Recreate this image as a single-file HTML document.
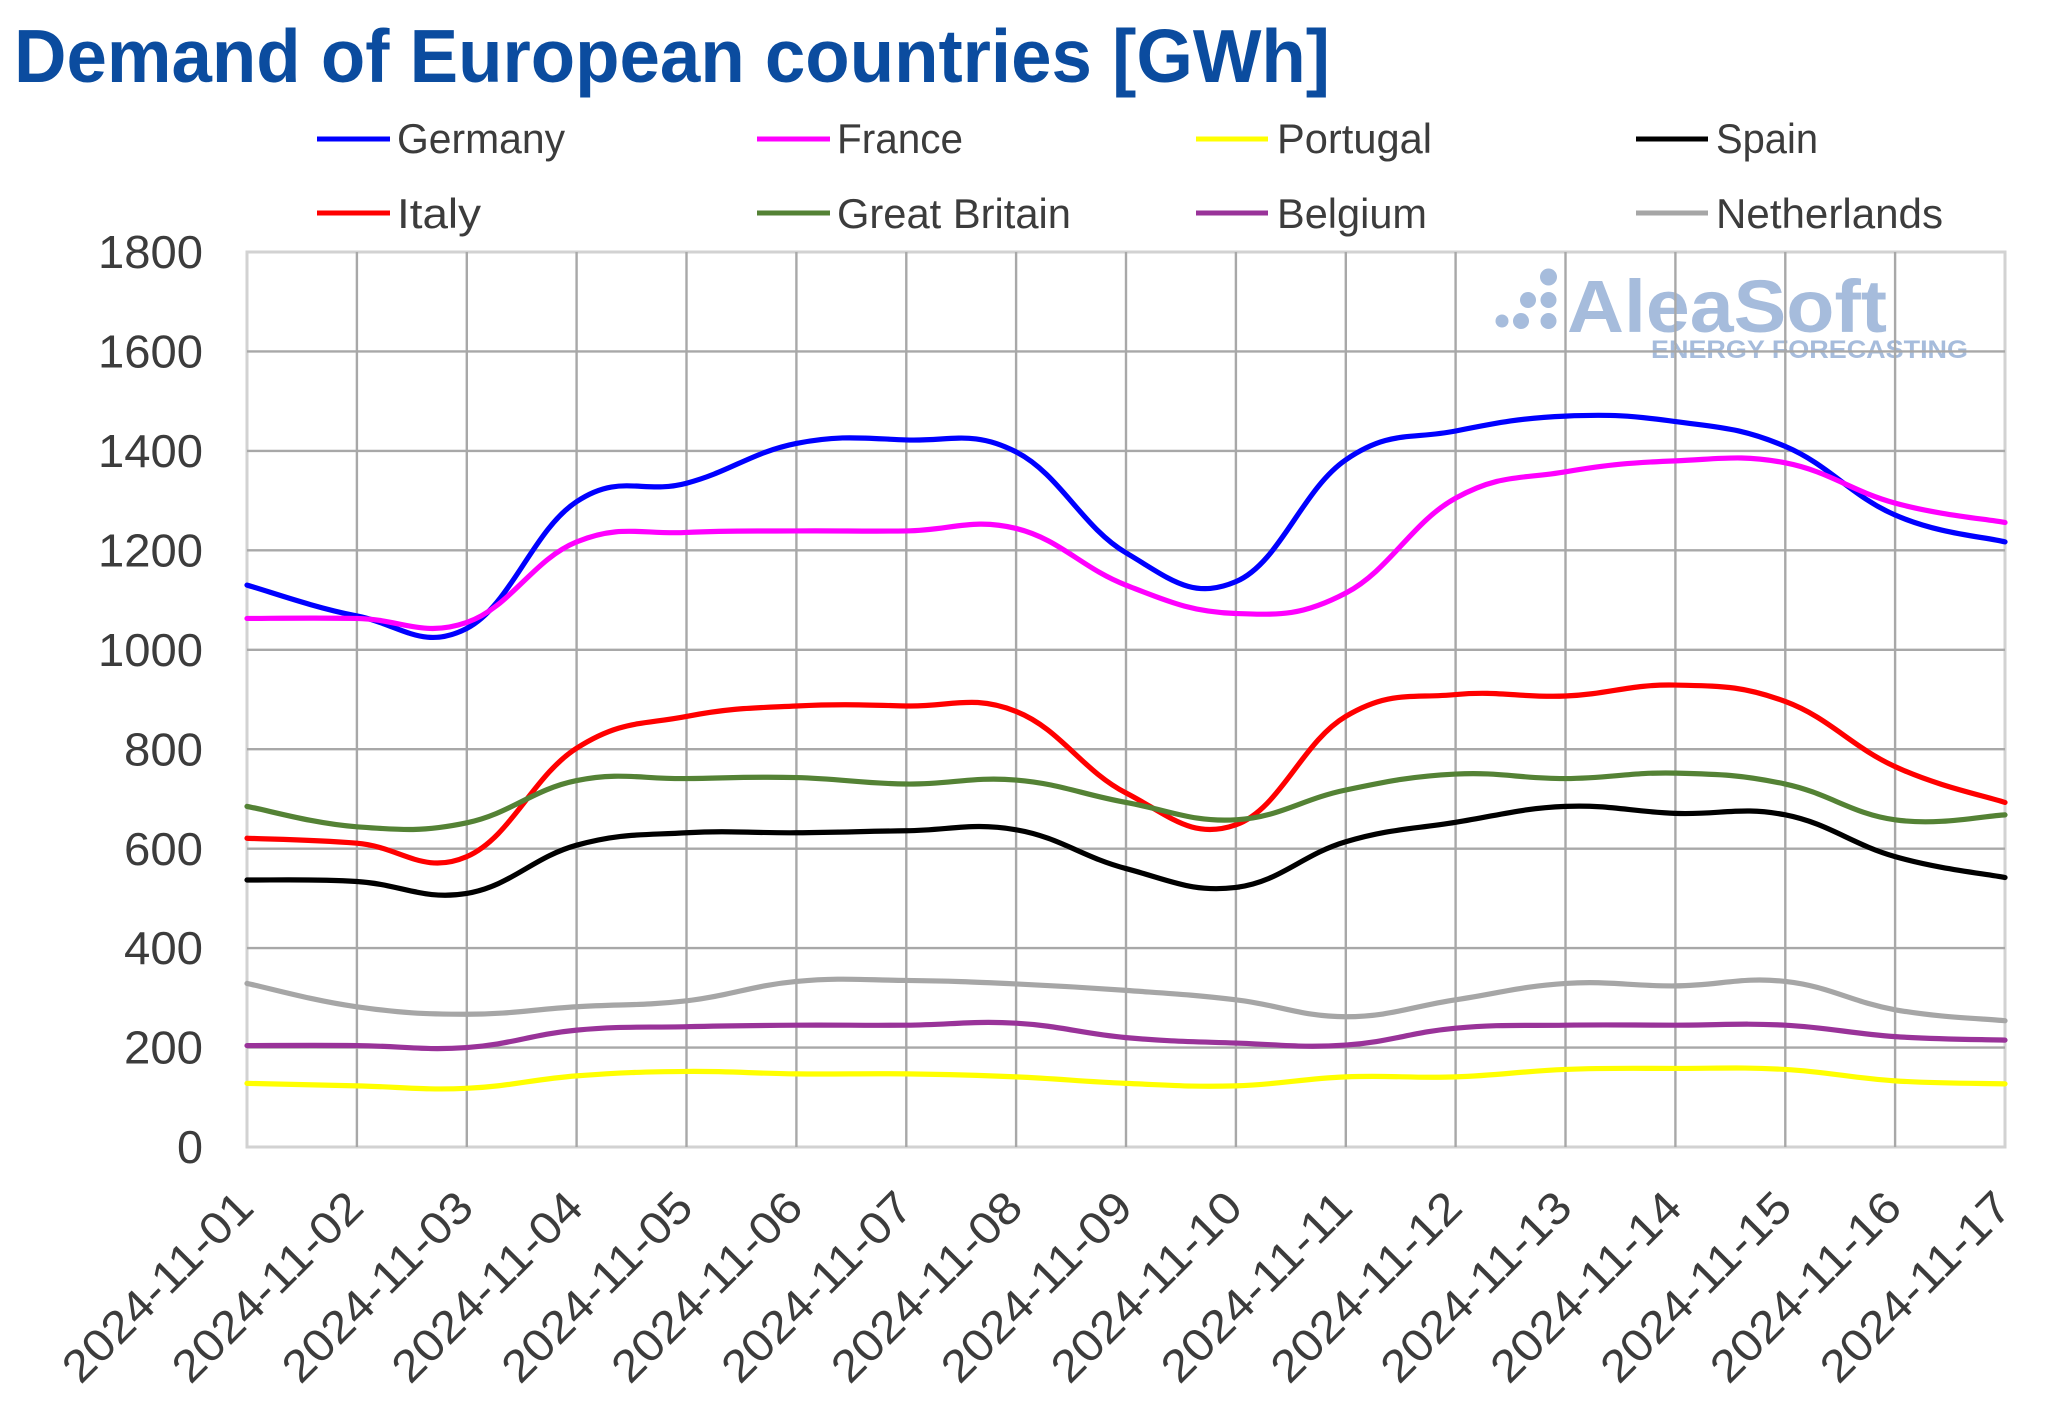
<!DOCTYPE html>
<html>
<head>
<meta charset="utf-8">
<style>
html,body{margin:0;padding:0;background:#fff;}
svg{display:block;}
text{font-family:"Liberation Sans",sans-serif;}
</style>
</head>
<body>
<svg id="chart" width="2048" height="1426" viewBox="0 0 2048 1426" xmlns="http://www.w3.org/2000/svg">
<rect x="0" y="0" width="2048" height="1426" fill="#ffffff"/>

<!-- Title -->
<text x="14" y="82" font-size="75" font-weight="bold" fill="#0b4c9f" textLength="1316" lengthAdjust="spacingAndGlyphs">Demand of European countries [GWh]</text>

<!-- Legend -->
<g stroke-width="5" stroke-linecap="butt">
<line x1="317" y1="139" x2="390" y2="139" stroke="#0000ff"/>
<line x1="757" y1="139" x2="830" y2="139" stroke="#ff00ff"/>
<line x1="1196" y1="139" x2="1268" y2="139" stroke="#ffff00"/>
<line x1="1636" y1="139" x2="1708" y2="139" stroke="#000000"/>
<line x1="317" y1="213" x2="390" y2="213" stroke="#ff0000"/>
<line x1="757" y1="213" x2="830" y2="213" stroke="#548235"/>
<line x1="1196" y1="213" x2="1268" y2="213" stroke="#993399"/>
<line x1="1636" y1="213" x2="1708" y2="213" stroke="#a6a6a6"/>
</g>
<g font-size="42" fill="#3c3c3c">
<text x="397" y="153" textLength="168" lengthAdjust="spacingAndGlyphs">Germany</text>
<text x="837" y="153" textLength="126" lengthAdjust="spacingAndGlyphs">France</text>
<text x="1277" y="153" textLength="155" lengthAdjust="spacingAndGlyphs">Portugal</text>
<text x="1716" y="153" textLength="102" lengthAdjust="spacingAndGlyphs">Spain</text>
<text x="397" y="228" textLength="84" lengthAdjust="spacingAndGlyphs">Italy</text>
<text x="837" y="228" textLength="234" lengthAdjust="spacingAndGlyphs">Great Britain</text>
<text x="1277" y="228" textLength="150" lengthAdjust="spacingAndGlyphs">Belgium</text>
<text x="1716" y="228" textLength="227" lengthAdjust="spacingAndGlyphs">Netherlands</text>
</g>

<!-- Watermark (behind grid) -->
<g fill="#a6bcdc">
<circle cx="1548.5" cy="277" r="8.5"/>
<circle cx="1528" cy="300" r="8"/>
<circle cx="1548.5" cy="300" r="8"/>
<circle cx="1502" cy="321" r="6.5"/>
<circle cx="1521" cy="321" r="8"/>
<circle cx="1548.5" cy="321" r="8"/>
<text x="1567" y="332" font-size="74" font-weight="bold" textLength="320" lengthAdjust="spacingAndGlyphs">AleaSoft</text>
<text x="1651" y="358" font-size="25" font-weight="bold" textLength="317" lengthAdjust="spacingAndGlyphs">ENERGY FORECASTING</text>
</g>

<!-- Plot border -->
<rect x="247" y="252" width="1758" height="895" fill="none" stroke="#d2d2d2" stroke-width="3"/>
<!-- Gridlines -->
<g stroke="#a8a8a8" stroke-width="2.4">
<line x1="247" y1="351.4" x2="2005" y2="351.4"/>
<line x1="247" y1="450.9" x2="2005" y2="450.9"/>
<line x1="247" y1="550.3" x2="2005" y2="550.3"/>
<line x1="247" y1="649.8" x2="2005" y2="649.8"/>
<line x1="247" y1="749.2" x2="2005" y2="749.2"/>
<line x1="247" y1="848.7" x2="2005" y2="848.7"/>
<line x1="247" y1="948.1" x2="2005" y2="948.1"/>
<line x1="247" y1="1047.6" x2="2005" y2="1047.6"/>
<line x1="356.9" y1="252" x2="356.9" y2="1147"/>
<line x1="466.8" y1="252" x2="466.8" y2="1147"/>
<line x1="576.6" y1="252" x2="576.6" y2="1147"/>
<line x1="686.5" y1="252" x2="686.5" y2="1147"/>
<line x1="796.4" y1="252" x2="796.4" y2="1147"/>
<line x1="906.3" y1="252" x2="906.3" y2="1147"/>
<line x1="1016.1" y1="252" x2="1016.1" y2="1147"/>
<line x1="1126" y1="252" x2="1126" y2="1147"/>
<line x1="1235.9" y1="252" x2="1235.9" y2="1147"/>
<line x1="1345.8" y1="252" x2="1345.8" y2="1147"/>
<line x1="1455.6" y1="252" x2="1455.6" y2="1147"/>
<line x1="1565.5" y1="252" x2="1565.5" y2="1147"/>
<line x1="1675.4" y1="252" x2="1675.4" y2="1147"/>
<line x1="1785.3" y1="252" x2="1785.3" y2="1147"/>
<line x1="1895.1" y1="252" x2="1895.1" y2="1147"/>
</g>

<!-- Y labels -->
<g font-size="46" fill="#3c3c3c" text-anchor="end">
<text x="203" y="268" textLength="105" lengthAdjust="spacingAndGlyphs">1800</text>
<text x="203" y="367.5" textLength="105" lengthAdjust="spacingAndGlyphs">1600</text>
<text x="203" y="467" textLength="105" lengthAdjust="spacingAndGlyphs">1400</text>
<text x="203" y="566.4" textLength="105" lengthAdjust="spacingAndGlyphs">1200</text>
<text x="203" y="665.9" textLength="105" lengthAdjust="spacingAndGlyphs">1000</text>
<text x="203" y="765.3" textLength="79" lengthAdjust="spacingAndGlyphs">800</text>
<text x="203" y="864.8" textLength="79" lengthAdjust="spacingAndGlyphs">600</text>
<text x="203" y="964.2" textLength="79" lengthAdjust="spacingAndGlyphs">400</text>
<text x="203" y="1063.7" textLength="79" lengthAdjust="spacingAndGlyphs">200</text>
<text x="203" y="1163.1" textLength="26" lengthAdjust="spacingAndGlyphs">0</text>
</g>

<!-- X labels -->
<g font-size="45" fill="#3c3c3c" text-anchor="end">
<text transform="translate(256,1210) rotate(-45)" textLength="248" lengthAdjust="spacingAndGlyphs">2024-11-01</text>
<text transform="translate(365.9,1210) rotate(-45)" textLength="248" lengthAdjust="spacingAndGlyphs">2024-11-02</text>
<text transform="translate(475.8,1210) rotate(-45)" textLength="248" lengthAdjust="spacingAndGlyphs">2024-11-03</text>
<text transform="translate(585.6,1210) rotate(-45)" textLength="248" lengthAdjust="spacingAndGlyphs">2024-11-04</text>
<text transform="translate(695.5,1210) rotate(-45)" textLength="248" lengthAdjust="spacingAndGlyphs">2024-11-05</text>
<text transform="translate(805.4,1210) rotate(-45)" textLength="248" lengthAdjust="spacingAndGlyphs">2024-11-06</text>
<text transform="translate(915.3,1210) rotate(-45)" textLength="248" lengthAdjust="spacingAndGlyphs">2024-11-07</text>
<text transform="translate(1025.1,1210) rotate(-45)" textLength="248" lengthAdjust="spacingAndGlyphs">2024-11-08</text>
<text transform="translate(1135,1210) rotate(-45)" textLength="248" lengthAdjust="spacingAndGlyphs">2024-11-09</text>
<text transform="translate(1244.9,1210) rotate(-45)" textLength="248" lengthAdjust="spacingAndGlyphs">2024-11-10</text>
<text transform="translate(1354.8,1210) rotate(-45)" textLength="248" lengthAdjust="spacingAndGlyphs">2024-11-11</text>
<text transform="translate(1464.6,1210) rotate(-45)" textLength="248" lengthAdjust="spacingAndGlyphs">2024-11-12</text>
<text transform="translate(1574.5,1210) rotate(-45)" textLength="248" lengthAdjust="spacingAndGlyphs">2024-11-13</text>
<text transform="translate(1684.4,1210) rotate(-45)" textLength="248" lengthAdjust="spacingAndGlyphs">2024-11-14</text>
<text transform="translate(1794.3,1210) rotate(-45)" textLength="248" lengthAdjust="spacingAndGlyphs">2024-11-15</text>
<text transform="translate(1904.1,1210) rotate(-45)" textLength="248" lengthAdjust="spacingAndGlyphs">2024-11-16</text>
<text transform="translate(2014,1210) rotate(-45)" textLength="248" lengthAdjust="spacingAndGlyphs">2024-11-17</text>
</g>

<!-- Series -->
<g id="series" fill="none" stroke-width="5.2" stroke-linejoin="round" stroke-linecap="round">
<path id="s0" stroke="#0000ff"/>
<path id="s1" stroke="#ff00ff"/>
<path id="s2" stroke="#ffff00"/>
<path id="s3" stroke="#000000"/>
<path id="s4" stroke="#ff0000"/>
<path id="s5" stroke="#548235"/>
<path id="s6" stroke="#993399"/>
<path id="s7" stroke="#a6a6a6"/>
</g>
</svg>
<script>
(function(){
var data=[
[1130,1068,1043,1298,1335,1415,1422,1398,1195,1137,1382,1440,1470,1459,1409,1271,1217],
[1063,1063,1055,1217,1236,1239,1239,1244,1130,1073,1114,1305,1358,1380,1376,1295,1256],
[128,123,118,143,152,147,147,141,128,123,141,141,156,158,156,133,127],
[537,534,510,607,632,632,636,638,560,522,614,653,685,671,668,584,542],
[621,611,584,802,866,887,887,876,712,648,866,910,907,929,896,765,693],
[685,644,652,737,741,743,730,738,693,658,718,750,741,752,730,658,668],
[204,204,200,235,242,245,245,249,220,209,205,239,245,245,245,222,215],
[329,282,267,282,294,333,335,328,315,296,262,296,329,324,333,276,254]
];
var T=0.2;
function pt(v,i){return [247+i*109.875,1147-v*0.49722];}
function f(n){return n.toFixed(2);}
for(var s=0;s<data.length;s++){
  var p=data[s].map(pt),n=p.length;
  var d="M"+f(p[0][0])+" "+f(p[0][1]);
  for(var i=0;i<n-1;i++){
    var p0=p[i>0?i-1:i],p1=p[i],p2=p[i+1],p3=p[i+2<n?i+2:i+1];
    var c1x=p1[0]+(p2[0]-p0[0])*T,c1y=p1[1]+(p2[1]-p0[1])*T;
    var c2x=p2[0]-(p3[0]-p1[0])*T,c2y=p2[1]-(p3[1]-p1[1])*T;
    d+=" C"+f(c1x)+" "+f(c1y)+" "+f(c2x)+" "+f(c2y)+" "+f(p2[0])+" "+f(p2[1]);
  }
  document.getElementById("s"+s).setAttribute("d",d);
}
})();
</script>
</body>
</html>
